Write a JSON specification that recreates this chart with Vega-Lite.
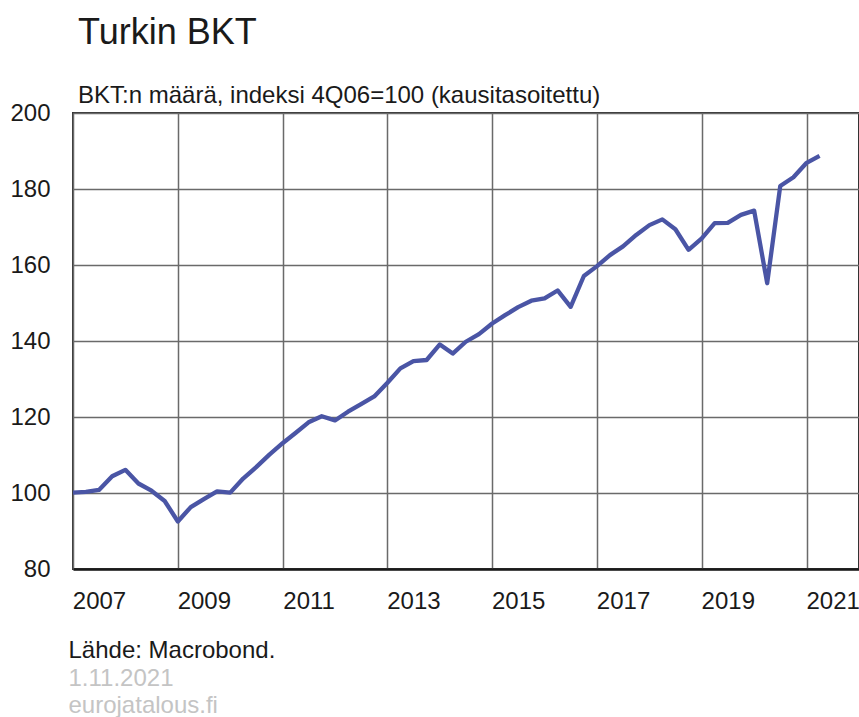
{
  "$schema": "https://vega.github.io/schema/vega-lite/v6.json",
  "autosize": {"type": "none"},
  "padding": {"left": 73, "top": 113, "right": 0, "bottom": 148},
  "width": 786,
  "height": 456,
  "background": "white",
  "config": {
    "font": "Liberation Sans",
    "view": {"stroke": "#333333", "strokeWidth": 2}
  },
  "title": {
    "text": "Turkin BKT",
    "subtitle": "BKT:n määrä, indeksi 4Q06=100 (kausitasoitettu)",
    "anchor": "start",
    "frame": "group",
    "fontSize": 36,
    "fontWeight": "normal",
    "color": "#1a1a1a",
    "subtitleFontSize": 24,
    "subtitleColor": "#1a1a1a",
    "subtitlePadding": 32,
    "offset": -8,
    "dx": 5
  },
  "data": {
    "values": [
      {"date": "2006-10-01", "bkt": 100.0},
      {"date": "2007-01-01", "bkt": 100.1},
      {"date": "2007-04-01", "bkt": 100.3},
      {"date": "2007-07-01", "bkt": 100.8},
      {"date": "2007-10-01", "bkt": 104.4},
      {"date": "2008-01-01", "bkt": 106.1},
      {"date": "2008-04-01", "bkt": 102.5},
      {"date": "2008-07-01", "bkt": 100.6},
      {"date": "2008-10-01", "bkt": 97.9},
      {"date": "2009-01-01", "bkt": 92.5},
      {"date": "2009-04-01", "bkt": 96.3},
      {"date": "2009-07-01", "bkt": 98.4},
      {"date": "2009-10-01", "bkt": 100.4},
      {"date": "2010-01-01", "bkt": 100.1},
      {"date": "2010-04-01", "bkt": 103.8},
      {"date": "2010-07-01", "bkt": 106.8},
      {"date": "2010-10-01", "bkt": 110.1},
      {"date": "2011-01-01", "bkt": 113.1},
      {"date": "2011-04-01", "bkt": 115.8},
      {"date": "2011-07-01", "bkt": 118.6},
      {"date": "2011-10-01", "bkt": 120.2},
      {"date": "2012-01-01", "bkt": 119.1},
      {"date": "2012-04-01", "bkt": 121.4},
      {"date": "2012-07-01", "bkt": 123.4},
      {"date": "2012-10-01", "bkt": 125.4},
      {"date": "2013-01-01", "bkt": 129.0},
      {"date": "2013-04-01", "bkt": 132.8},
      {"date": "2013-07-01", "bkt": 134.7},
      {"date": "2013-10-01", "bkt": 135.0},
      {"date": "2014-01-01", "bkt": 139.1},
      {"date": "2014-04-01", "bkt": 136.7},
      {"date": "2014-07-01", "bkt": 139.8},
      {"date": "2014-10-01", "bkt": 141.8},
      {"date": "2015-01-01", "bkt": 144.6},
      {"date": "2015-04-01", "bkt": 146.8},
      {"date": "2015-07-01", "bkt": 148.9},
      {"date": "2015-10-01", "bkt": 150.6},
      {"date": "2016-01-01", "bkt": 151.2},
      {"date": "2016-04-01", "bkt": 153.3},
      {"date": "2016-07-01", "bkt": 149.0},
      {"date": "2016-10-01", "bkt": 157.1},
      {"date": "2017-01-01", "bkt": 159.7},
      {"date": "2017-04-01", "bkt": 162.6},
      {"date": "2017-07-01", "bkt": 164.9},
      {"date": "2017-10-01", "bkt": 167.9},
      {"date": "2018-01-01", "bkt": 170.5},
      {"date": "2018-04-01", "bkt": 172.0},
      {"date": "2018-07-01", "bkt": 169.4},
      {"date": "2018-10-01", "bkt": 164.0},
      {"date": "2019-01-01", "bkt": 167.0},
      {"date": "2019-04-01", "bkt": 171.0},
      {"date": "2019-07-01", "bkt": 171.1},
      {"date": "2019-10-01", "bkt": 173.2},
      {"date": "2020-01-01", "bkt": 174.3},
      {"date": "2020-04-01", "bkt": 155.2},
      {"date": "2020-07-01", "bkt": 180.8},
      {"date": "2020-10-01", "bkt": 183.1},
      {"date": "2021-01-01", "bkt": 186.9},
      {"date": "2021-04-01", "bkt": 188.7}
    ]
  },
  "mark": {"type": "line", "color": "#4a55a5", "strokeWidth": 4.3, "clip": true, "strokeJoin": "round"},
  "encoding": {
    "x": {
      "field": "date",
      "type": "temporal",
      "scale": {"type": "utc", "domain": [{"year": 2007, "utc": true}, {"year": 2022, "utc": true}]},
      "axis": {
        "values": [
          {"year": 2007, "utc": true}, {"year": 2009, "utc": true}, {"year": 2011, "utc": true},
          {"year": 2013, "utc": true}, {"year": 2015, "utc": true}, {"year": 2017, "utc": true},
          {"year": 2019, "utc": true}, {"year": 2021, "utc": true}
        ],
        "format": "%Y",
        "labelFontSize": 24,
        "labelColor": "#1a1a1a",
        "labelOffset": 26,
        "labelPadding": 20,
        "labelFlush": false,
        "labelOverlap": false,
        "ticks": false,
        "grid": true,
        "gridColor": "#6a6a6a",
        "gridWidth": 1.5,
        "gridOpacity": 1,
        "domainColor": "#1a1a1a",
        "domainWidth": 2.5,
        "title": "Lähde: Macrobond.",
        "titleFontSize": 24,
        "titleFontWeight": "normal",
        "titleColor": "#1a1a1a",
        "titleAlign": "left",
        "titleBaseline": "alphabetic",
        "titleX": -5,
        "titleY": 88
      }
    },
    "y": {
      "field": "bkt",
      "type": "quantitative",
      "scale": {"domain": [80, 200], "nice": false, "zero": false},
      "axis": {
        "values": [80, 100, 120, 140, 160, 180, 200],
        "labelFontSize": 24,
        "labelColor": "#1a1a1a",
        "labelPadding": 23,
        "ticks": false,
        "domain": false,
        "grid": true,
        "gridColor": "#6a6a6a",
        "gridWidth": 1.5,
        "gridOpacity": 1,
        "title": ["1.11.2021", "eurojatalous.fi"],
        "titleFontSize": 24,
        "titleFontWeight": "normal",
        "titleColor": "#c4c4c4",
        "titleAngle": 0,
        "titleAlign": "left",
        "titleBaseline": "alphabetic",
        "titleLineHeight": 27,
        "titleX": -5,
        "titleY": 572
      }
    }
  }
}
